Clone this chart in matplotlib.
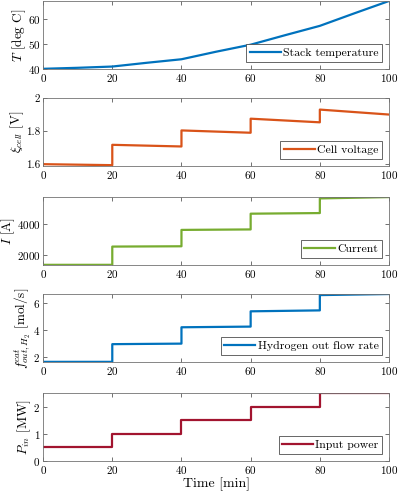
import matplotlib
matplotlib.use('Agg')
import matplotlib.pyplot as plt

plt.rcParams['font.family'] = 'serif'
plt.rcParams['font.serif'] = ['cmr10']
plt.rcParams['mathtext.fontset'] = 'cm'
plt.rcParams['axes.formatter.use_mathtext'] = True

# Stack temperature (smooth curve)
t_temp = [0, 10, 20, 30, 40, 50, 60, 70, 80, 90, 100]
temp = [40, 40.4, 40.9, 42.4, 43.8, 46.8, 49.6, 53.4, 57.1, 62.1, 67]

# step signals: each segment start/end
t_step = [0, 20, 20, 40, 40, 60, 60, 80, 80, 100]
voltage = [1.600, 1.594, 1.717, 1.707, 1.804, 1.790, 1.875, 1.853, 1.930, 1.900]
current = [1380, 1380, 2550, 2570, 3620, 3650, 4660, 4700, 5640, 5725]
h2_flow = [1.6, 1.6, 2.93, 2.97, 4.2, 4.25, 5.4, 5.47, 6.62, 6.7]
power = [0.5, 0.5, 1.0, 1.0, 1.5, 1.5, 2.0, 2.0, 2.5, 2.5]

panels = [
    (t_temp, temp, '#0072BD', 'Stack temperature', r'$T$ [deg C]', (40, 67), [40, 50, 60]),
    (t_step, voltage, '#D95319', 'Cell voltage', r'$\xi_{cell}$ [V]', (1.59, 2.0), [1.6, 1.8, 2.0]),
    (t_step, current, '#77AC30', 'Current', r'$I$ [A]', (1380, 5730), [2000, 4000]),
    (t_step, h2_flow, '#0072BD', 'Hydrogen out flow rate', r'$f^{cat}_{out,H_2}$ [mol/s]', (1.6, 6.7), [2, 4, 6]),
    (t_step, power, '#A2142F', 'Input power', r'$P_{in}$ [MW]', (0, 2.5), [0, 1, 2]),
]
tick_labels = {1: ['1.6', '1.8', '2']}

fig = plt.figure(figsize=(3.99, 4.95), dpi=100)
bottoms = [0.861, 0.665, 0.465, 0.269, 0.069]

for i, (x, y, color, name, ylabel, ylim, yticks) in enumerate(panels):
    ax = fig.add_axes([0.108, bottoms[i], 0.867, 0.137])
    ax.plot(x, y, color=color, lw=1.6, label=name)
    ax.set_xlim(0, 100)
    ax.set_ylim(*ylim)
    ax.set_xticks([0, 20, 40, 60, 80, 100])
    ax.set_yticks(yticks)
    if i in tick_labels:
        ax.set_yticklabels(tick_labels[i])
    ax.set_ylabel(ylabel, fontsize=9.5, labelpad=0)
    ax.tick_params(direction='in', top=True, right=True, labelsize=8,
                   length=3, width=0.6, color='0.35', pad=2)
    for s in ax.spines.values():
        s.set_color('0.45')
        s.set_linewidth(0.6)
    leg = ax.legend(loc='lower right', fontsize=8.5, fancybox=False,
                    handlelength=2.6, handletextpad=0.2, borderaxespad=0.6,
                    borderpad=0.3, framealpha=1)
    leg.get_frame().set_edgecolor('0.3')
    leg.get_frame().set_linewidth(0.6)
    if i == 4:
        ax.set_xlabel('Time [min]', fontsize=10, labelpad=1)

fig.savefig('out.png', dpi=100)
